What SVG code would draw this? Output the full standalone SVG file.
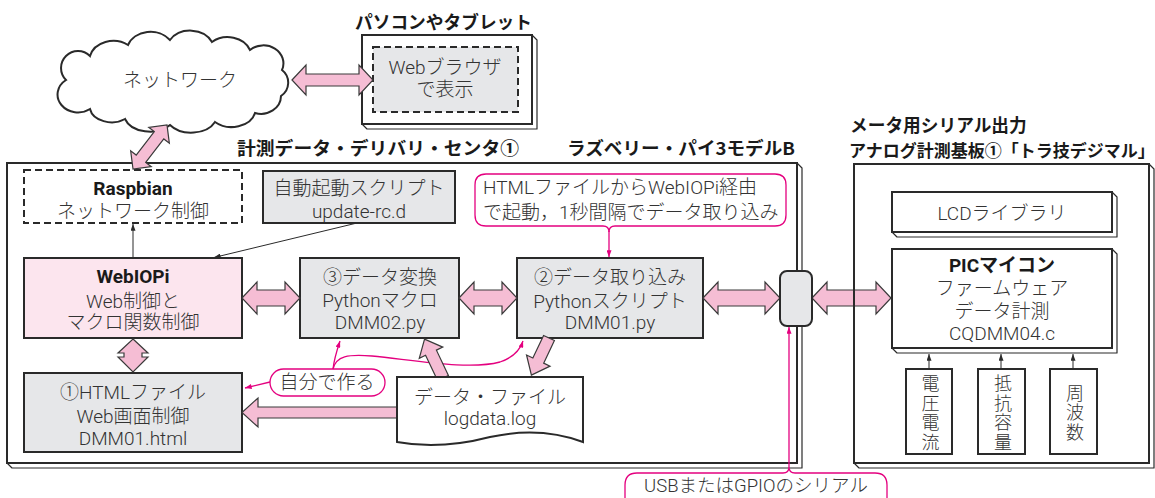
<svg xmlns="http://www.w3.org/2000/svg" width="1155" height="498" viewBox="0 0 1155 498">
  <style>
    .t { font-family: Roboto, "Noto Sans CJK JP", sans-serif; font-size: 19px; font-weight: 300; fill: #333; text-anchor: middle; }
    .s { text-anchor: start; }
    .b { font-weight: bold; fill: #1a1a1a; }
    .v { font-size: 18px; writing-mode: vertical-rl; letter-spacing: 1.5px; }
    .ttl { font-family: "Noto Sans CJK JP", "Liberation Sans", sans-serif; font-size: 17.7px; font-weight: bold; fill: #1a1a1a; }
    .frame { fill: #fff; stroke: #2a2a2a; stroke-width: 2; }
    .bevel { fill: #fff; stroke: #2a2a2a; stroke-width: 1.2; stroke-linejoin: round; }
    .gray { fill: #e6e7e9; stroke: #2a2a2a; stroke-width: 2; }
    .pink { fill: #fce5ee; stroke: #2a2a2a; stroke-width: 2; }
    .dash { fill: none; stroke: #2a2a2a; stroke-width: 2; stroke-dasharray: 7 4; }
    .fat { fill: #f5bdd4; stroke: #3a3a3a; stroke-width: 1.2; stroke-linejoin: miter; }
    .thin { fill: none; stroke: #2a2a2a; stroke-width: 1; }
    .mag { fill: none; stroke: #e4007f; stroke-width: 1.3; }
    .callout { fill: #fff; stroke: #e4007f; stroke-width: 1.3; }
  </style>
  <defs>
    <marker id="ah" viewBox="0 0 8 6" refX="8" refY="3" markerWidth="7" markerHeight="5" orient="auto" markerUnits="userSpaceOnUse">
      <path d="M0,0 L8,3 L0,6 z" fill="#2a2a2a"/>
    </marker>
    <marker id="mh" viewBox="0 0 8 6" refX="8" refY="3" markerWidth="8" markerHeight="5" orient="auto" markerUnits="userSpaceOnUse">
      <path d="M0,0 L8,3 L0,6 z" fill="#e4007f"/>
    </marker>
  </defs>

  <!-- network cloud -->
  <g id="network">
    <path class="frame" stroke-width="1.2" d="M66,80 A16,16 0 0 1 90,56 A24,20 0 0 1 128,45 A24,20 0 0 1 170,40 A24,20 0 0 1 212,42 A24,20 0 0 1 250,50 A20,18 0 0 1 282,70 A16,16 0 0 1 281,96 A20,18 0 0 1 255,113 A24,18 0 0 1 215,122 A26,18 0 0 1 170,125 A26,18 0 0 1 125,119 A22,16 0 0 1 90,109 A16,14 0 0 1 66,80 Z"/>
    <text class="t" x="180" y="86.5">ネットワーク</text>
  </g>

  <!-- PC / tablet -->
  <g id="pc">
    <text class="ttl" x="355" y="29" textLength="177" lengthAdjust="spacingAndGlyphs">パソコンやタブレット</text>
    <path class="bevel" d="M532,35 L537,40 L537,129 L367,129 L362,124 L532,124 Z"/>
    <rect class="frame" x="362" y="35" width="170" height="89"/>
    <rect x="373" y="47" width="145" height="65" fill="#e6e7e9"/>
    <rect class="dash" x="373" y="47" width="145" height="65"/>
    <text class="t" x="445" y="73.5">Webブラウザ</text>
    <text class="t" x="445" y="95.5">で表示</text>
  </g>

  <!-- Raspberry Pi frame -->
  <g id="raspberry-pi">
    <text class="ttl" x="237" y="155" textLength="282" lengthAdjust="spacingAndGlyphs">計測データ・デリバリ・センタ①</text>
    <text class="ttl" x="567" y="155" textLength="228" lengthAdjust="spacingAndGlyphs">ラズベリー・パイ3モデルB</text>
    <path class="bevel" d="M797,163 L802,168 L802,468 L12,468 L7,463 L797,463 Z"/>
    <rect class="frame" x="7" y="163" width="790" height="300"/>
  </g>

  <g id="raspbian">
    <rect class="dash" x="24" y="170" width="218" height="53"/>
    <text class="t b" x="133" y="194.5">Raspbian</text>
    <text class="t" x="133" y="217.5">ネットワーク制御</text>
  </g>

  <g id="autostart">
    <rect class="gray" x="263" y="171" width="192" height="52"/>
    <text class="t" x="359" y="194.5">自動起動スクリプト</text>
    <text class="t" x="359" y="218">update-rc.d</text>
  </g>

  <g id="note-start">
    <path class="callout" d="M486,174 H775 Q786,174 786,185 V215 Q786,226 775,226 H615 Q609,226 609,232 Q609,226 603,226 H486 Q475,226 475,215 V185 Q475,174 486,174 Z"/>
    <text class="t s" x="483" y="193.5">HTMLファイルからWebIOPi経由</text>
    <text class="t s" x="483" y="218.5">で起動，1秒間隔でデータ取り込み</text>
  </g>

  <g id="webiopi">
    <rect class="pink" x="24" y="258" width="218" height="80"/>
    <text class="t b" x="133" y="282.5">WebIOPi</text>
    <text class="t" x="133" y="307.5">Web制御と</text>
    <text class="t" x="133" y="329">マクロ関数制御</text>
  </g>

  <g id="convert">
    <rect class="gray" x="300" y="258" width="159" height="80"/>
    <text class="t" x="380" y="283.5">③データ変換</text>
    <text class="t" x="380" y="306.5">Pythonマクロ</text>
    <text class="t" x="380" y="329">DMM02.py</text>
  </g>

  <g id="capture">
    <rect class="gray" x="517" y="258" width="186" height="80"/>
    <text class="t" x="610" y="283.5">②データ取り込み</text>
    <text class="t" x="610" y="307.5">Pythonスクリプト</text>
    <text class="t" x="610" y="329">DMM01.py</text>
  </g>

  <g id="html-file">
    <rect class="gray" x="24" y="373" width="218" height="79"/>
    <text class="t" x="133" y="398.5">①HTMLファイル</text>
    <text class="t" x="133" y="422.5">Web画面制御</text>
    <text class="t" x="133" y="445">DMM01.html</text>
  </g>

  <g id="self-made">
    <rect class="callout" x="270" y="369" width="115" height="27" rx="13.5"/>
    <text class="t" x="327" y="388.5">自分で作る</text>
  </g>

  <!-- connectors -->
  <g id="connectors">
    <!-- thin control arrows -->
    <line class="thin" x1="133" y1="258" x2="133" y2="224" marker-end="url(#ah)"/>
    <line class="thin" x1="357" y1="223" x2="214" y2="257.5" marker-end="url(#ah)"/>
    <line class="thin" x1="929" y1="369" x2="929" y2="354" marker-end="url(#ah)"/>
    <line class="thin" x1="1001" y1="369" x2="1001" y2="354" marker-end="url(#ah)"/>
    <line class="thin" x1="1073" y1="369" x2="1073" y2="354" marker-end="url(#ah)"/>

    <!-- magenta pointers -->
    <line class="mag" x1="609" y1="231" x2="609" y2="257" marker-end="url(#mh)"/>
    <path class="mag" d="M270,382 L245,388" marker-end="url(#mh)"/>
    <path class="mag" d="M333,369 C334,360 337,350 340,341" marker-end="url(#mh)"/>
    <path class="mag" d="M333,369 C336,356 348,354 372,356 C420,361 470,370 500,362 C512,358 520,350 523,341" marker-end="url(#mh)"/>

    <!-- wide data-flow arrows -->
    <polygon class="fat" points="292,80 306,65 306,74 359,74 359,65 373,80 359,95 359,86 306,86 306,95"/>
    <polygon class="fat" transform="translate(150,147) rotate(-52.3)" points="-27.8,0 -14.8,-13 -14.8,-6 14.8,-6 14.8,-13 27.8,0 14.8,13 14.8,6 -14.8,6 -14.8,13"/>
    <polygon class="fat" points="242,298 257,282 257,290 285,290 285,282 300,298 285,314 285,306 257,306 257,314"/>
    <polygon class="fat" points="459,298 474,282 474,290 502,290 502,282 517,298 502,314 502,306 474,306 474,314"/>
    <polygon class="fat" points="703,298 718,282 718,290 765,290 765,282 780,298 765,314 765,306 718,306 718,314"/>
    <polygon class="fat" points="812,298 827,282 827,290 876,290 876,282 891,298 876,314 876,306 827,306 827,314"/>
    <polygon class="fat" points="133,339 148,353 142,353 142,357 148,357 133,372 118,357 124,357 124,353 118,353"/>
    <polygon class="fat" points="242,412.5 258,398 258,407 398,407 398,418 258,418 258,427"/>
    <polygon class="fat" transform="translate(443,378) rotate(-115.4)" points="0,-6 28,-6 28,-13 43,0 28,13 28,6 0,6"/>
    <polygon class="fat" transform="translate(549,338) rotate(115.4)" points="0,-6 25,-6 25,-13 41,0 25,13 25,6 0,6"/>

    <!-- serial link pointer -->
    <line class="mag" x1="789" y1="467" x2="789" y2="327" marker-end="url(#mh)"/>
  </g>

  <g id="data-file">
    <path class="frame" d="M397,377 H583 V442 Q540,426 490,437 Q440,450 397,442 Z"/>
    <text class="t" x="490" y="403.5">データ・ファイル</text>
    <text class="t" x="490" y="425">logdata.log</text>
  </g>

  <g id="serial-port">
    <rect class="gray" x="780" y="271" width="32" height="55" rx="7" stroke-width="2.2"/>
  </g>

  <g id="serial-note">
    <path class="callout" d="M625,510 V485 Q625,473 637,473 H783 Q789,473 789,467 Q789,473 795,473 H875 Q887,473 887,485 V510"/>
    <text class="t" x="756" y="492" style="font-size:18.5px">USBまたはGPIOのシリアル</text>
  </g>

  <!-- analog measurement board -->
  <g id="meter-board">
    <text class="ttl"><tspan x="850" y="132">メータ用シリアル出力</tspan><tspan x="849" y="157" style="font-size:17px">アナログ計測基板①「トラ技デジマル」</tspan></text>
    <path class="bevel" d="M1149,164 L1154,169 L1154,468 L859,468 L854,463 L1149,463 Z"/>
    <rect x="854" y="164" width="295" height="299" fill="none" stroke="#2a2a2a" stroke-width="2"/>
  </g>

  <g id="lcd-library">
    <path class="bevel" d="M1112,192 L1117,197 L1117,237 L897,237 L892,232 L1112,232 Z"/>
    <rect class="frame" x="892" y="192" width="220" height="40"/>
    <text class="t" x="1002" y="219.5">LCDライブラリ</text>
  </g>

  <g id="pic">
    <path class="bevel" d="M1112,249 L1117,254 L1117,353 L897,353 L892,348 L1112,348 Z"/>
    <rect class="frame" x="892" y="249" width="220" height="99"/>
    <text class="t b" x="1002" y="271.5">PICマイコン</text>
    <text class="t" x="1002" y="294.5">ファームウェア</text>
    <text class="t" x="1002" y="317.5">データ計測</text>
    <text class="t" x="1002" y="340">CQDMM04.c</text>
  </g>

  <g id="volt-current">
    <rect class="frame" x="906" y="369" width="46" height="85"/>
    <text class="t v" x="929" y="413.5">電圧電流</text>
  </g>

  <g id="resist-capacity">
    <rect class="frame" x="978" y="369" width="47" height="85"/>
    <text class="t v" x="1001.5" y="413.5">抵抗容量</text>
  </g>

  <g id="frequency">
    <rect class="frame" x="1050" y="369" width="47" height="85"/>
    <text class="t v" x="1073.5" y="413">周波数</text>
  </g>
</svg>
